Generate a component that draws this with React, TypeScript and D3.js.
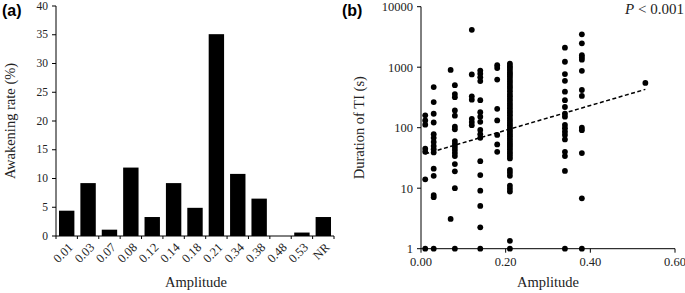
import React from "react";
import * as d3 from "d3";

const categories = ["0.01","0.03","0.07","0.08","0.12","0.14","0.18","0.21","0.34","0.38","0.48","0.53","NR"];
const awakeningRate = [4.4, 9.2, 1.1, 11.9, 3.3, 9.2, 4.9, 35.1, 10.8, 6.5, 0, 0.6, 3.3];
const rateTicks = [0, 5, 10, 15, 20, 25, 30, 35, 40];

const amp001 = [160, 132, 112, 45, 40, 14, 1];
const amp003 = [470, 265, 170, 122, 78, 68, 58, 50, 44, 39, 21, 16, 7.7, 7.1, 1];
const amp007 = [900, 3.1];
const amp008 = [505, 360, 320, 193, 158, 104, 94, 60, 54, 48, 43, 38, 34, 25, 19, 10, 1];
const amp012 = [4150, 760, 330, 290, 140, 124, 110];
const amp014 = [880, 780, 680, 590, 285, 180, 152, 125, 92, 78, 68, 28, 16.5, 9.1, 5.1, 2.26, 1];
const amp018 = [1080, 970, 625, 205, 132, 76, 53, 40];
const amp021 = [1150, 1050, 980, 900, 820, 760, 700, 640, 580, 530, 480, 440, 400, 360, 330, 300, 275, 250, 230, 210, 190, 175, 160, 145, 132, 120, 110, 100, 92, 85, 78, 72, 66, 61, 56, 52, 48, 44, 40, 37, 34, 31, 20, 18, 16, 11, 9.8, 8.8, 1.35, 1];
const amp034 = [2100, 1230, 770, 595, 394, 285, 220, 170, 152, 111, 98, 86, 76, 64, 40, 34, 19.3, 1];
const amp038 = [3500, 2480, 1580, 1450, 1330, 870, 420, 335, 100, 91, 38, 6.8, 1];
const amp053 = [550];

const scatterGroups: [number, number[]][] = [
  [0.01, amp001], [0.03, amp003], [0.07, amp007], [0.08, amp008], [0.12, amp012],
  [0.14, amp014], [0.18, amp018], [0.21, amp021], [0.34, amp034], [0.38, amp038], [0.53, amp053],
];
const trendX = [0.01, 0.53];
const trendY = [37, 430];
const durTicks = [1, 10, 100, 1000, 10000];
const ampTicks = [0, 0.2, 0.4, 0.6];

const SERIF = "'Liberation Serif', 'Times New Roman', serif";
const SANS = "'Liberation Sans', Arial, sans-serif";

export default function App() {
  // Panel (a)
  const ax0 = 56, ax1 = 334, ay0 = 236, ay1 = 6;
  const xb = d3.scaleBand<string>().domain(categories).range([ax0, ax1]).paddingInner(0.28).paddingOuter(0.14);
  const ya = d3.scaleLinear().domain([0, 40]).range([ay0, ay1]);
  const step = xb.step();

  // Panel (b)
  const bx0 = 421, bx1 = 675, by0 = 248.7, by1 = 6.7;
  const xs = d3.scaleLinear().domain([0, 0.6]).range([bx0, bx1]);
  const ys = d3.scaleLog().domain([1, 10000]).range([by0, by1]);
  const line = d3.line<number>().x((_, i) => xs(trendX[i])).y((d) => ys(d));

  const pts: { x: number; y: number }[] = [];
  scatterGroups.forEach(([a, vals]) => vals.forEach((v) => pts.push({ x: a, y: v })));

  return (
    <svg width={685} height={293} style={{ position: "absolute", left: 0, top: 0, background: "#fff" }}>
      {/* Panel (a) */}
      <text x={2} y={16} fontFamily={SANS} fontWeight="bold" fontSize={16}>(a)</text>
      {awakeningRate.map((v, i) => (
        <rect key={i} x={xb(categories[i])!} y={ya(v)} width={xb.bandwidth()} height={ay0 - ya(v)} fill="#000" />
      ))}
      <line x1={ax0} x2={ax0} y1={ay1} y2={ay0} stroke="#000" strokeWidth={1} />
      {rateTicks.map((t) => (
        <g key={t}>
          <line x1={ax0 - 4} x2={ax0} y1={ya(t)} y2={ya(t)} stroke="#000" />
          <text x={ax0 - 8} y={ya(t)} dy="0.32em" textAnchor="end" fontFamily={SERIF} fontSize={11.5} fill="#222">{t}</text>
        </g>
      ))}
      <line x1={ax0} x2={ax1} y1={ay0} y2={ay0} stroke="#000" strokeWidth={1} />
      {d3.range(categories.length + 1).map((i) => (
        <line key={i} x1={ax0 + i * step} x2={ax0 + i * step} y1={ay0} y2={ay0 + 3} stroke="#000" />
      ))}
      {categories.map((c) => {
        const cx = xb(c)! + xb.bandwidth() / 2;
        return (
          <text key={c} transform={`translate(${cx + 4},${ay0 + 9}) rotate(-45)`} textAnchor="end" dy="0.35em" fontFamily={SERIF} fontSize={12.5} fill="#222">{c}</text>
        );
      })}
      <text x={196} y={287} textAnchor="middle" fontFamily={SERIF} fontSize={14.5} fill="#222">Amplitude</text>
      <text transform={`translate(15,${(ay0 + ay1) / 2}) rotate(-90)`} textAnchor="middle" fontFamily={SERIF} fontSize={14.5} fill="#222">Awakening rate (%)</text>

      {/* Panel (b) */}
      <text x={342} y={16} fontFamily={SANS} fontWeight="bold" fontSize={16}>(b)</text>
      <line x1={bx0} x2={bx0} y1={by1} y2={by0} stroke="#000" />
      {durTicks.map((t) => (
        <g key={t}>
          <line x1={bx0 - 4} x2={bx0} y1={ys(t)} y2={ys(t)} stroke="#000" />
          <text x={bx0 - 8} y={ys(t)} dy="0.35em" textAnchor="end" fontFamily={SERIF} fontSize={12.5} fill="#222">{t}</text>
        </g>
      ))}
      <line x1={bx0} x2={bx1} y1={by0} y2={by0} stroke="#000" />
      {ampTicks.map((t) => (
        <g key={t}>
          <line x1={xs(t)} x2={xs(t)} y1={by0} y2={by0 + 4} stroke="#000" />
          <text x={xs(t)} y={by0 + 17} textAnchor="middle" fontFamily={SERIF} fontSize={12.5} fill="#222">{t.toFixed(2)}</text>
        </g>
      ))}
      {pts.map((p, i) => (
        <circle key={i} cx={xs(p.x)} cy={ys(p.y)} r={2.9} fill="#000" />
      ))}
      <path d={line(trendY) || ""} fill="none" stroke="#000" strokeWidth={1.5} strokeDasharray="4,2.5" />
      <text x={548} y={287} textAnchor="middle" fontFamily={SERIF} fontSize={14.5} fill="#222">Amplitude</text>
      <text transform={`translate(364,${(by0 + by1) / 2}) rotate(-90)`} textAnchor="middle" fontFamily={SERIF} fontSize={14.5} fill="#222">Duration of TI (s)</text>
      <text x={684} y={14} textAnchor="end" fontFamily={SERIF} fontSize={15} fill="#222">
        <tspan fontStyle="italic">P</tspan> &lt; 0.001
      </text>
    </svg>
  );
}
